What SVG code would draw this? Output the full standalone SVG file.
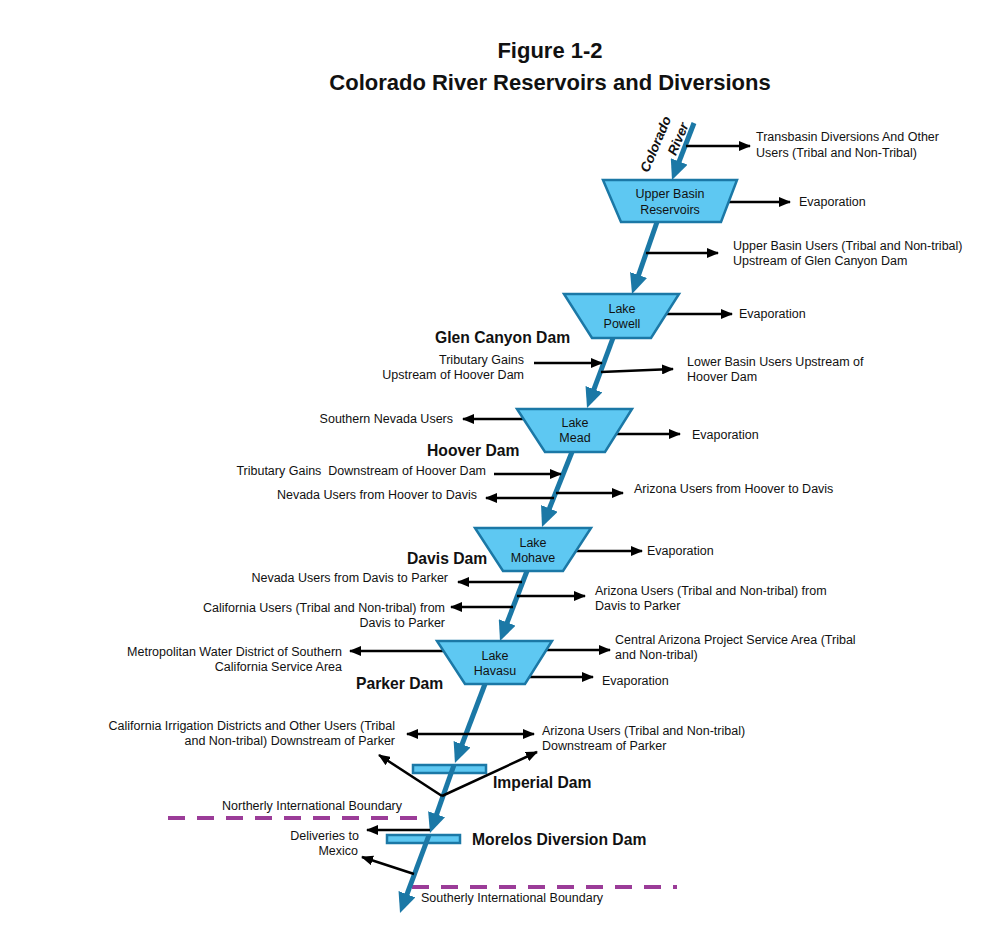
<svg xmlns="http://www.w3.org/2000/svg" width="992" height="932" viewBox="0 0 992 932">
<style>
text{font-family:"Liberation Sans",Arial,sans-serif;fill:#111}
.t{font-size:12.5px}
.e{text-anchor:end}
.m{text-anchor:middle}
.b{font-size:15.7px;font-weight:bold}
.ttl{font-size:22px;font-weight:bold;text-anchor:middle}
.rl{font-size:13.5px;font-weight:bold;font-style:italic;text-anchor:end}
.res{fill:#5ec8f2;stroke:#1b78a6;stroke-width:2.5;stroke-linejoin:miter}
.dam{fill:#5ec8f2;stroke:#1b78a6;stroke-width:2.5}
.riv{stroke:#1b78a6;stroke-width:5;fill:none;marker-end:url(#rh)}
.arr{stroke:#000;stroke-width:2.5;fill:none;marker-end:url(#ah)}
.bnd{stroke:#9b3c98;stroke-width:4;stroke-dasharray:17 12;fill:none}
</style>
<defs>
<marker id="rh" markerUnits="userSpaceOnUse" markerWidth="20" markerHeight="18" refX="10" refY="9" orient="auto"><path d="M0,0 L20,9 L0,18 z" fill="#1b78a6"/></marker>
<marker id="ah" markerUnits="userSpaceOnUse" markerWidth="12" markerHeight="10" refX="11" refY="5" orient="auto-start-reverse"><path d="M0,0 L12,5 L0,10 z" fill="#000"/></marker>
</defs>
<rect width="992" height="932" fill="#fff"/>
<g id="title">
<text class="ttl" x="550" y="58">Figure 1-2</text>
<text class="ttl" x="550" y="90">Colorado River Reservoirs and Diversions</text>
</g>
<g id="river-label">
<text class="rl" transform="translate(671.5,118.7) rotate(-67)">Colorado</text>
<text class="rl" transform="translate(688.9,125.1) rotate(-67)">River</text>
</g>
<g id="boundaries">
<line class="bnd" x1="168" y1="818" x2="418" y2="818"/>
<line class="bnd" x1="412" y1="887" x2="677" y2="887"/>
<text class="t e" x="402" y="810.3">Northerly International Boundary</text>
<text class="t" x="421" y="902.3">Southerly International Boundary</text>
</g>
<g id="imperial-dam">
<rect class="dam" x="413" y="765" width="73" height="8"/>
<text class="b" x="493" y="787.5">Imperial Dam</text>
</g>
<g id="morelos-dam">
<rect class="dam" x="387" y="835" width="73" height="8"/>
<text class="b" x="472" y="844.5">Morelos Diversion Dam</text>
</g>
<g id="connectors">
<line class="riv" x1="694" y1="123" x2="675.6" y2="170.7"/>
<line class="riv" x1="657" y1="222" x2="635.3" y2="284.5"/>
<line class="riv" x1="613" y1="338" x2="590.5" y2="398.6"/>
<line class="riv" x1="572" y1="452" x2="545.7" y2="517.7"/>
<line class="riv" x1="527" y1="571" x2="503.6" y2="631.7"/>
<line class="riv" x1="485" y1="684" x2="458.5" y2="753.6"/>
<line class="riv" x1="454" y1="765" x2="433.3" y2="823.6"/>
<line class="riv" x1="429" y1="835" x2="403.5" y2="903.6"/>
<line class="arr" x1="686" y1="146" x2="750" y2="146"/>
<line class="arr" x1="728" y1="202" x2="790" y2="202"/>
<line class="arr" x1="646" y1="253" x2="718" y2="253"/>
<line class="arr" x1="666" y1="314" x2="732" y2="314"/>
<line class="arr" x1="534" y1="363" x2="602" y2="363"/>
<line class="arr" x1="601" y1="372" x2="673" y2="369"/>
<line class="arr" x1="523" y1="419" x2="463" y2="419"/>
<line class="arr" x1="616" y1="434" x2="680" y2="434"/>
<line class="arr" x1="494" y1="474" x2="561" y2="474"/>
<line class="arr" x1="556" y1="493" x2="623" y2="493"/>
<line class="arr" x1="554" y1="498" x2="486" y2="498"/>
<line class="arr" x1="576" y1="551" x2="642" y2="551"/>
<line class="arr" x1="522" y1="582" x2="458" y2="582"/>
<line class="arr" x1="517" y1="596" x2="585" y2="596"/>
<line class="arr" x1="513" y1="607" x2="451" y2="607"/>
<line class="arr" x1="443" y1="651" x2="350" y2="651"/>
<line class="arr" x1="546" y1="650" x2="610" y2="650"/>
<line class="arr" x1="529" y1="677" x2="593" y2="677"/>
<line class="arr" x1="407" y1="734" x2="534" y2="734" style="marker-start:url(#ah)"/>
<line class="arr" x1="442" y1="796" x2="379" y2="755"/>
<line class="arr" x1="442" y1="796" x2="537" y2="752"/>
<line class="arr" x1="430" y1="830" x2="367" y2="830"/>
<line class="arr" x1="414" y1="874" x2="362" y2="857"/>
</g>
<g id="upper-basin">
<polygon class="res" points="603,180 737,180 721,222 621,222"/>
<text class="t m" x="670" y="197.5">Upper Basin</text>
<text class="t m" x="670" y="213.5">Reservoirs</text>
</g>
<g id="lake-powell">
<polygon class="res" points="564,294 679,294 651,338 592,338"/>
<text class="t m" x="622" y="312.5">Lake</text>
<text class="t m" x="622" y="327.5">Powell</text>
<text class="b" x="435" y="342.5">Glen Canyon Dam</text>
</g>
<g id="lake-mead">
<polygon class="res" points="517,409 632,409 605,452 545,452"/>
<text class="t m" x="575" y="426.5">Lake</text>
<text class="t m" x="575" y="441.5">Mead</text>
<text class="b" x="427" y="456">Hoover Dam</text>
</g>
<g id="lake-mohave">
<polygon class="res" points="475,528 591,528 563,571 503,571"/>
<text class="t m" x="533" y="546.5">Lake</text>
<text class="t m" x="533" y="561.5">Mohave</text>
<text class="b" x="407" y="563.5">Davis Dam</text>
</g>
<g id="lake-havasu">
<polygon class="res" points="437,641 552,641 525,684 465,684"/>
<text class="t m" x="495" y="659.5">Lake</text>
<text class="t m" x="495" y="674.5">Havasu</text>
<text class="b" x="356" y="688.5">Parker Dam</text>
</g>
<g id="labels">
<text class="t" x="756" y="141.3">Transbasin Diversions And Other</text>
<text class="t" x="756" y="157.3">Users (Tribal and Non-Tribal)</text>
<text class="t" x="799" y="206.3">Evaporation</text>
<text class="t" x="733" y="250.3">Upper Basin Users (Tribal and Non-tribal)</text>
<text class="t" x="733" y="265.3">Upstream of Glen Canyon Dam</text>
<text class="t" x="739" y="318.3">Evaporation</text>
<text class="t e" x="524" y="364.3">Tributary Gains</text>
<text class="t e" x="524" y="379.3">Upstream of Hoover Dam</text>
<text class="t" x="687" y="366.3">Lower Basin Users Upstream of</text>
<text class="t" x="687" y="381.3">Hoover Dam</text>
<text class="t e" x="453" y="423.3">Southern Nevada Users</text>
<text class="t" x="692" y="438.8">Evaporation</text>
<text class="t e" x="486" y="475.3" xml:space="preserve">Tributary Gains  Downstream of Hoover Dam</text>
<text class="t e" x="477" y="499.3">Nevada Users from Hoover to Davis</text>
<text class="t" x="634" y="492.8">Arizona Users from Hoover to Davis</text>
<text class="t" x="647" y="554.8">Evaporation</text>
<text class="t e" x="448" y="582.3">Nevada Users from Davis to Parker</text>
<text class="t" x="595" y="595.3">Arizona Users (Tribal and Non-tribal) from</text>
<text class="t" x="595" y="610.3">Davis to Parker</text>
<text class="t e" x="445" y="612.3">California Users (Tribal and Non-tribal) from</text>
<text class="t e" x="445" y="627.3">Davis to Parker</text>
<text class="t e" x="342" y="656.3">Metropolitan Water District of Southern</text>
<text class="t e" x="342" y="671.3">California Service Area</text>
<text class="t" x="615" y="644.3">Central Arizona Project Service Area (Tribal</text>
<text class="t" x="615" y="659.3">and Non-tribal)</text>
<text class="t" x="602" y="685.3">Evaporation</text>
<text class="t e" x="395" y="730.3">California Irrigation Districts and Other Users (Tribal</text>
<text class="t e" x="395" y="745.3">and Non-tribal) Downstream of Parker</text>
<text class="t" x="542" y="735.3">Arizona Users (Tribal and Non-tribal)</text>
<text class="t" x="542" y="750.3">Downstream of Parker</text>
<text class="t e" x="359" y="840.3">Deliveries to</text>
<text class="t e" x="358" y="855.3">Mexico</text>
</g>
</svg>
